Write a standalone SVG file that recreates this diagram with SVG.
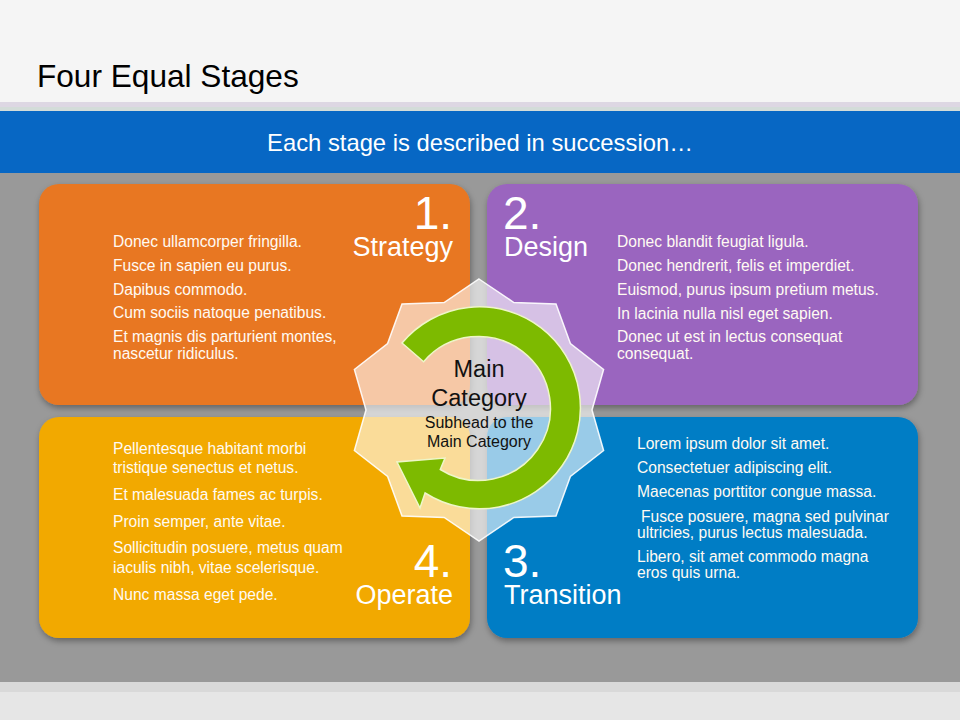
<svg xmlns="http://www.w3.org/2000/svg" width="960" height="720" viewBox="0 0 960 720">
<defs>
<style>
.t{font-family:"Liberation Sans",Arial,sans-serif;}
.body{font-family:"Liberation Sans",Arial,sans-serif;font-size:15.6px;fill:#fffaf2;}
.hd{font-family:"Liberation Sans",Arial,sans-serif;fill:#ffffff;}
.num{font-size:46px;}
.lbl{font-size:27px;}
.panel{filter:url(#sh);}
.ctr{font-family:"Liberation Sans",Arial,sans-serif;fill:#111111;text-anchor:middle;}
</style>
<filter id="sh" x="-10%" y="-10%" width="120%" height="125%">
<feDropShadow dx="1" dy="3" stdDeviation="3" flood-color="#000000" flood-opacity="0.35"/>
</filter>
</defs>

<!-- background -->
<rect x="0" y="0" width="960" height="102" fill="#f5f5f5"/>
<rect x="0" y="102" width="960" height="5" fill="#ddd7e3"/>
<rect x="0" y="107" width="960" height="4" fill="#d3dcd9"/>
<rect x="0" y="111" width="960" height="62" fill="#0767c4"/>
<rect x="0" y="173" width="960" height="509" fill="#999999"/>
<rect x="0" y="682" width="960" height="10" fill="#d9d9d9"/>
<rect x="0" y="692" width="960" height="28" fill="#e6e6e6"/>

<text class="t" x="37" y="87" font-size="31.6" fill="#000000">Four Equal Stages</text>
<text class="t" x="480" y="151" font-size="23.8" fill="#ffffff" text-anchor="middle">Each stage is described in succession…</text>

<g id="stage1">
<rect class="panel" x="39" y="184" width="431" height="221" rx="20" fill="#e87722"/>
<text class="hd" text-anchor="end"><tspan class="num" x="452" y="229">1.</tspan><tspan class="lbl" x="453" y="256">Strategy</tspan></text>
<text class="body" x="113" y="247">Donec ullamcorper fringilla.</text>
<text class="body" x="113" y="271">Fusce in sapien eu purus.</text>
<text class="body" x="113" y="295">Dapibus commodo.</text>
<text class="body" x="113" y="318">Cum sociis natoque penatibus.</text>
<text class="body" x="113" y="342">Et magnis dis parturient montes,</text>
<text class="body" x="113" y="359">nascetur ridiculus.</text>
</g>

<g id="stage2">
<rect class="panel" x="487" y="184" width="431" height="221" rx="20" fill="#9a65bf"/>
<text class="hd"><tspan class="num" x="503" y="229">2.</tspan><tspan class="lbl" x="504" y="256">Design</tspan></text>
<text class="body" x="617" y="247">Donec blandit feugiat ligula.</text>
<text class="body" x="617" y="271">Donec hendrerit, felis et imperdiet.</text>
<text class="body" x="617" y="295">Euismod, purus ipsum pretium metus.</text>
<text class="body" x="617" y="319">In lacinia nulla nisl eget sapien.</text>
<text class="body" x="617" y="342">Donec ut est in lectus consequat</text>
<text class="body" x="617" y="359">consequat.</text>
</g>

<g id="stage4">
<rect class="panel" x="39" y="417" width="431" height="221" rx="20" fill="#f2a900"/>
<text class="hd" text-anchor="end"><tspan class="num" x="452" y="577">4.</tspan><tspan class="lbl" x="453" y="604">Operate</tspan></text>
<text class="body" x="113" y="454">Pellentesque habitant morbi</text>
<text class="body" x="113" y="473">tristique senectus et netus.</text>
<text class="body" x="113" y="500">Et malesuada fames ac turpis.</text>
<text class="body" x="113" y="527">Proin semper, ante vitae.</text>
<text class="body" x="113" y="553">Sollicitudin posuere, metus quam</text>
<text class="body" x="113" y="573">iaculis nibh, vitae scelerisque.</text>
<text class="body" x="113" y="600">Nunc massa eget pede.</text>
</g>

<g id="stage3">
<rect class="panel" x="487" y="417" width="431" height="221" rx="20" fill="#007dc5"/>
<text class="hd"><tspan class="num" x="503" y="577">3.</tspan><tspan class="lbl" x="504" y="604">Transition</tspan></text>
<text class="body" x="637" y="449">Lorem ipsum dolor sit amet.</text>
<text class="body" x="637" y="473">Consectetuer adipiscing elit.</text>
<text class="body" x="637" y="497">Maecenas porttitor congue massa.</text>
<text class="body" x="641" y="522">Fusce posuere, magna sed pulvinar</text>
<text class="body" x="637" y="538">ultricies, purus lectus malesuada.</text>
<text class="body" x="637" y="562">Libero, sit amet commodo magna</text>
<text class="body" x="637" y="578">eros quis urna.</text>
</g>

<g id="connectors"></g>

<g id="main-category" transform="translate(479,410)">
<polygon points="0,-131 34.9,-107.5 77,-106 91.4,-66.4 124.6,-40.5 113,0 124.6,40.5 91.4,66.4 77,106 34.9,107.5 0,131 -34.9,107.5 -77,106 -91.4,66.4 -124.6,40.5 -113,0 -124.6,-40.5 -91.4,-66.4 -77,-106 -34.9,-107.5" fill="#ffffff" fill-opacity="0.6" stroke="#ffffff" stroke-opacity="0.9" stroke-width="1.5"/>
<path d="M -77,-67 A 101 101 0 1 1 -53.9,83 L -59,98 L -82,52 L -34,48 L -38.7,59.5 A 72 72 0 1 0 -55.4,-48.2 Z" fill="#7dba00" stroke="#eef6c8" stroke-width="1.5" stroke-linejoin="miter"/>
<text class="ctr" x="0" y="-33" font-size="23.5">Main</text>
<text class="ctr" x="0" y="-4" font-size="23.5">Category</text>
<text class="ctr" x="0" y="18" font-size="16">Subhead to the</text>
<text class="ctr" x="0" y="37" font-size="16">Main Category</text>
</g>
</svg>
